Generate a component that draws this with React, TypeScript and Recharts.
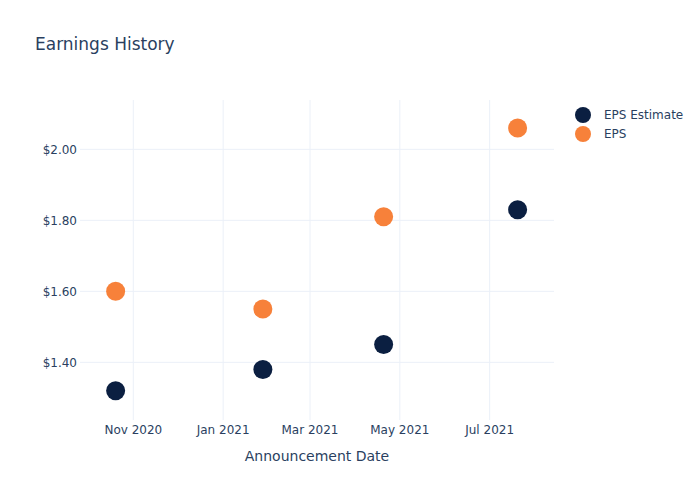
import React from 'react';
import { ScatterChart, Scatter, XAxis, YAxis, CartesianGrid } from 'recharts';

const announcementDates = ['2020-10-20', '2021-01-28', '2021-04-20', '2021-07-20'];
const epsEstimate = [1.32, 1.38, 1.45, 1.83];
const epsActual = [1.6, 1.55, 1.81, 2.06];
const xTickDates = ['2020-11-01', '2021-01-01', '2021-03-01', '2021-05-01', '2021-07-01'];
const yTicks = [1.4, 1.6, 1.8, 2.0];
const seriesNames = ['EPS Estimate', 'EPS'];
const monthNames = ['Jan', 'Feb', 'Mar', 'Apr', 'May', 'Jun', 'Jul', 'Aug', 'Sep', 'Oct', 'Nov', 'Dec'];

const toTs = (s: string) => {
  const [y, m, d] = s.split('-').map(Number);
  return Date.UTC(y, m - 1, d);
};

const estimateData = announcementDates.map((d, i) => ({ date: toTs(d), value: epsEstimate[i] }));
const actualData = announcementDates.map((d, i) => ({ date: toTs(d), value: epsActual[i] }));
const xTicks = xTickDates.map(toTs);
const xDomain = [toTs('2020-09-25') + 0.8 * 86400000, toTs('2021-08-13') + 0.7 * 86400000];

const FONT = '"DejaVu Sans", Verdana, Arial, sans-serif';
const TEXT = '#2a3f5f';
const NAVY = '#0b1f41';
const ORANGE = '#f7813a';

const fmtDate = (v: number) => {
  const d = new Date(v);
  return `${monthNames[d.getUTCMonth()]} ${d.getUTCFullYear()}`;
};

const dot = (color: string) => (p: any) => <circle cx={p.cx} cy={p.cy} r={9.5} fill={color} />;

export default function App() {
  return (
    <div style={{ position: 'absolute', left: 0, top: 0, width: 700, height: 500, background: '#fff', fontFamily: FONT }}>
      <div style={{ position: 'absolute', left: 35, top: 34, fontSize: 17, color: TEXT, fontFamily: FONT, lineHeight: '20px', whiteSpace: 'nowrap' }}>
        Earnings History
      </div>
      <svg width={130} height={40} style={{ position: 'absolute', left: 572, top: 106, overflow: 'visible' }}>
        <circle cx={11} cy={9} r={8} fill={NAVY} />
        <text x={32} y={13} fontSize={12} fill={TEXT} fontFamily={FONT}>{seriesNames[0]}</text>
        <circle cx={11} cy={28} r={8} fill={ORANGE} />
        <text x={32} y={32} fontSize={12} fill={TEXT} fontFamily={FONT}>{seriesNames[1]}</text>
      </svg>
      <ScatterChart width={700} height={500} margin={{ top: 100, right: 146, bottom: 0, left: 0 }} style={{ position: 'absolute', left: 0, top: 0 }}>
        <CartesianGrid stroke="#ebf0f8" strokeWidth={1} syncWithTicks />
        <XAxis
          type="number"
          dataKey="date"
          domain={xDomain}
          ticks={xTicks}
          tickFormatter={fmtDate}
          allowDataOverflow
          height={80}
          axisLine={false}
          tickLine={false}
          tickSize={0}
          tickMargin={5}
          tick={{ fontSize: 12, fill: TEXT, fontFamily: FONT }}
          label={{ value: 'Announcement Date', position: 'insideTop', offset: 31, fontSize: 14, fill: TEXT, fontFamily: FONT }}
        />
        <YAxis
          type="number"
          dataKey="value"
          domain={[1.2375, 2.139]}
          ticks={yTicks}
          allowDataOverflow
          width={80}
          axisLine={false}
          tickLine={false}
          tickSize={0}
          tickMargin={3}
          tickFormatter={(v: number) => `$${v.toFixed(2)}`}
          tick={{ fontSize: 12, fill: TEXT, fontFamily: FONT }}
        />
        <Scatter name={seriesNames[0]} data={estimateData} fill={NAVY} shape={dot(NAVY)} isAnimationActive={false} />
        <Scatter name={seriesNames[1]} data={actualData} fill={ORANGE} shape={dot(ORANGE)} isAnimationActive={false} />
      </ScatterChart>
    </div>
  );
}
